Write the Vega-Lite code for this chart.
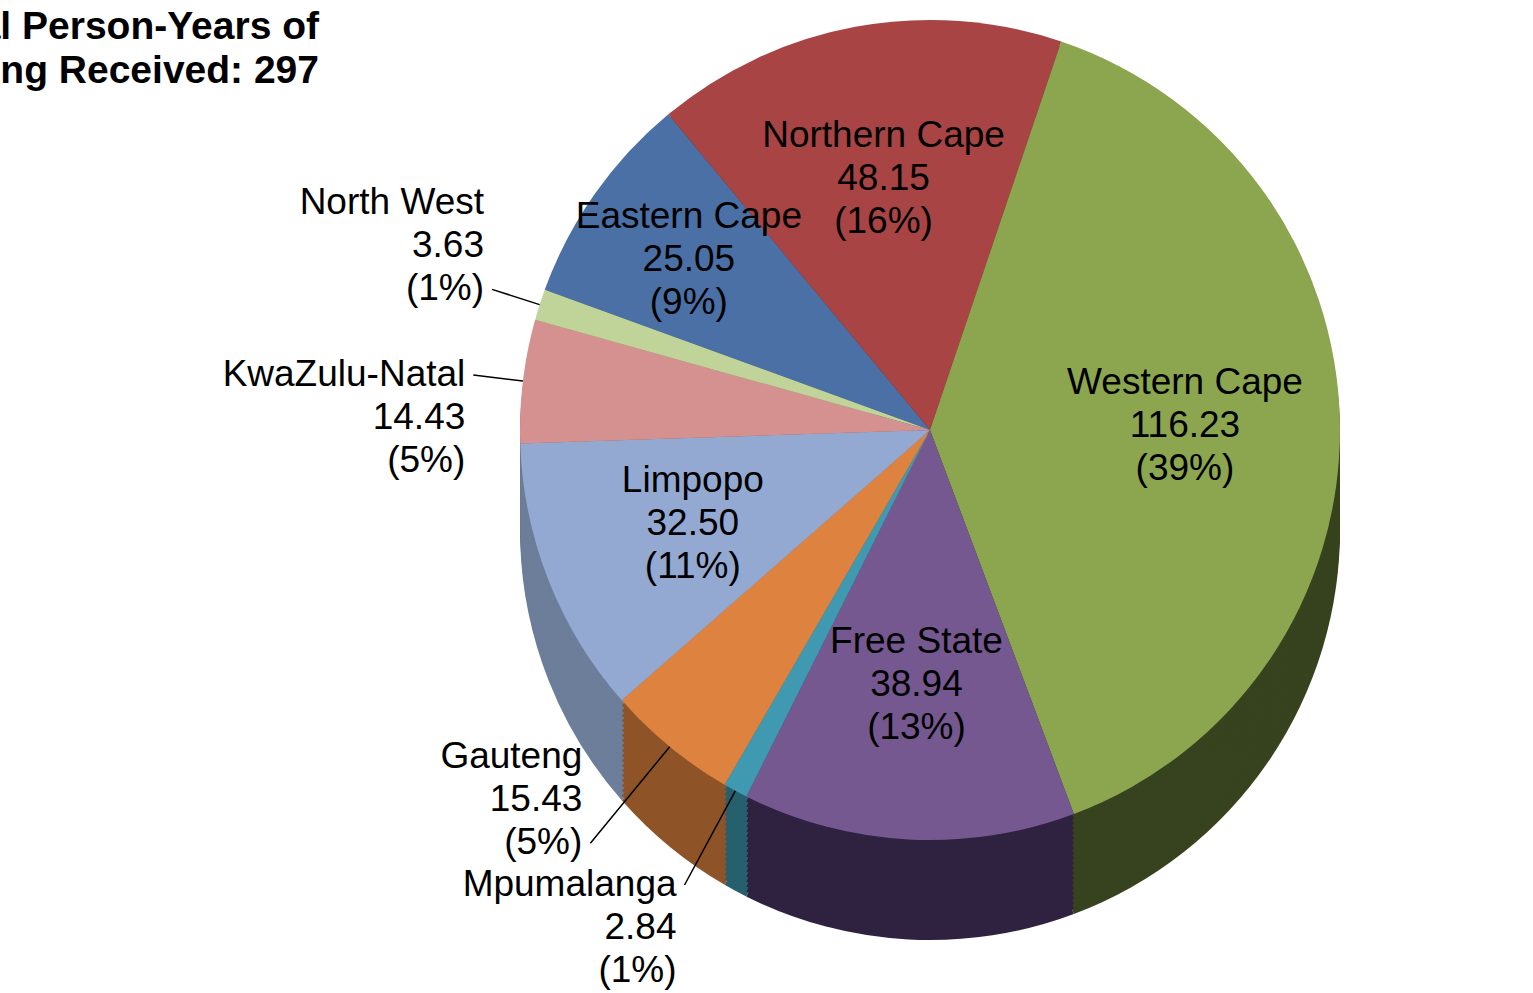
{
  "$schema": "https://vega.github.io/schema/vega-lite/v6.json",
  "width": 1000,
  "height": 860,
  "autosize": "none",
  "padding": {"left": 430, "top": 0, "right": 103, "bottom": 133},
  "background": "white",
  "config": {"view": {"stroke": null}},
  "title": {
    "text": ["Total Person-Years of", "Funding Received: 297"],
    "anchor": "start",
    "frame": "group",
    "align": "right",
    "baseline": "top",
    "dx": -111,
    "dy": 95,
    "font": "Liberation Sans",
    "fontSize": 39,
    "fontWeight": "bold",
    "lineHeight": 44,
    "color": "#000000"
  },
  "data": {
    "values": [
      {"region": "Eastern Cape", "value": 25.05, "pct": 9},
      {"region": "Northern Cape", "value": 48.15, "pct": 16},
      {"region": "Western Cape", "value": 116.23, "pct": 39},
      {"region": "Free State", "value": 38.94, "pct": 13},
      {"region": "Mpumalanga", "value": 2.84, "pct": 1},
      {"region": "Gauteng", "value": 15.43, "pct": 5},
      {"region": "Limpopo", "value": 32.50, "pct": 11},
      {"region": "KwaZulu-Natal", "value": 14.43, "pct": 5},
      {"region": "North West", "value": 3.63, "pct": 1}
    ]
  },
  "transform": [
    {"window": [{"op": "sum", "field": "value", "as": "end"}], "frame": [null, 0]},
    {"calculate": "datum.end - datum.value", "as": "start"},
    {"calculate": "datum.end - datum.value / 2", "as": "mid"},
    {"calculate": "datum.region + '\\n' + format(datum.value, '.2f') + '\\n(' + datum.pct + '%)'", "as": "label"}
  ],
  "resolve": {"scale": {"color": "independent"}},
  "layer": [
    {"mark": {"type": "arc", "outerRadius": 410, "yOffset": 100}, "encoding": {"theta": {"field": "start", "type": "quantitative", "stack": null, "scale": {"domain": [0, 297.2], "range": [5.06145, 11.34464]}}, "theta2": {"field": "end"}, "color": {"field": "region", "type": "nominal", "legend": null, "scale": {"domain": ["Eastern Cape", "Northern Cape", "Western Cape", "Free State", "Mpumalanga", "Gauteng", "Limpopo", "KwaZulu-Natal", "North West"], "range": ["#2C4466", "#672A2A", "#37431E", "#2F2240", "#26606E", "#8E5427", "#6C7E9A", "#8A5E5D", "#7D8A64"]}}}},
    {"mark": {"type": "arc", "outerRadius": 410, "yOffset": 95}, "encoding": {"theta": {"field": "start", "type": "quantitative", "stack": null}, "theta2": {"field": "end"}, "color": {"field": "region", "type": "nominal", "legend": null, "scale": {"domain": ["Eastern Cape", "Northern Cape", "Western Cape", "Free State", "Mpumalanga", "Gauteng", "Limpopo", "KwaZulu-Natal", "North West"], "range": ["#2C4466", "#672A2A", "#37431E", "#2F2240", "#26606E", "#8E5427", "#6C7E9A", "#8A5E5D", "#7D8A64"]}}}},
    {"mark": {"type": "arc", "outerRadius": 410, "yOffset": 90}, "encoding": {"theta": {"field": "start", "type": "quantitative", "stack": null}, "theta2": {"field": "end"}, "color": {"field": "region", "type": "nominal", "legend": null, "scale": {"domain": ["Eastern Cape", "Northern Cape", "Western Cape", "Free State", "Mpumalanga", "Gauteng", "Limpopo", "KwaZulu-Natal", "North West"], "range": ["#2C4466", "#672A2A", "#37431E", "#2F2240", "#26606E", "#8E5427", "#6C7E9A", "#8A5E5D", "#7D8A64"]}}}},
    {"mark": {"type": "arc", "outerRadius": 410, "yOffset": 85}, "encoding": {"theta": {"field": "start", "type": "quantitative", "stack": null}, "theta2": {"field": "end"}, "color": {"field": "region", "type": "nominal", "legend": null, "scale": {"domain": ["Eastern Cape", "Northern Cape", "Western Cape", "Free State", "Mpumalanga", "Gauteng", "Limpopo", "KwaZulu-Natal", "North West"], "range": ["#2C4466", "#672A2A", "#37431E", "#2F2240", "#26606E", "#8E5427", "#6C7E9A", "#8A5E5D", "#7D8A64"]}}}},
    {"mark": {"type": "arc", "outerRadius": 410, "yOffset": 80}, "encoding": {"theta": {"field": "start", "type": "quantitative", "stack": null}, "theta2": {"field": "end"}, "color": {"field": "region", "type": "nominal", "legend": null, "scale": {"domain": ["Eastern Cape", "Northern Cape", "Western Cape", "Free State", "Mpumalanga", "Gauteng", "Limpopo", "KwaZulu-Natal", "North West"], "range": ["#2C4466", "#672A2A", "#37431E", "#2F2240", "#26606E", "#8E5427", "#6C7E9A", "#8A5E5D", "#7D8A64"]}}}},
    {"mark": {"type": "arc", "outerRadius": 410, "yOffset": 75}, "encoding": {"theta": {"field": "start", "type": "quantitative", "stack": null}, "theta2": {"field": "end"}, "color": {"field": "region", "type": "nominal", "legend": null, "scale": {"domain": ["Eastern Cape", "Northern Cape", "Western Cape", "Free State", "Mpumalanga", "Gauteng", "Limpopo", "KwaZulu-Natal", "North West"], "range": ["#2C4466", "#672A2A", "#37431E", "#2F2240", "#26606E", "#8E5427", "#6C7E9A", "#8A5E5D", "#7D8A64"]}}}},
    {"mark": {"type": "arc", "outerRadius": 410, "yOffset": 70}, "encoding": {"theta": {"field": "start", "type": "quantitative", "stack": null}, "theta2": {"field": "end"}, "color": {"field": "region", "type": "nominal", "legend": null, "scale": {"domain": ["Eastern Cape", "Northern Cape", "Western Cape", "Free State", "Mpumalanga", "Gauteng", "Limpopo", "KwaZulu-Natal", "North West"], "range": ["#2C4466", "#672A2A", "#37431E", "#2F2240", "#26606E", "#8E5427", "#6C7E9A", "#8A5E5D", "#7D8A64"]}}}},
    {"mark": {"type": "arc", "outerRadius": 410, "yOffset": 65}, "encoding": {"theta": {"field": "start", "type": "quantitative", "stack": null}, "theta2": {"field": "end"}, "color": {"field": "region", "type": "nominal", "legend": null, "scale": {"domain": ["Eastern Cape", "Northern Cape", "Western Cape", "Free State", "Mpumalanga", "Gauteng", "Limpopo", "KwaZulu-Natal", "North West"], "range": ["#2C4466", "#672A2A", "#37431E", "#2F2240", "#26606E", "#8E5427", "#6C7E9A", "#8A5E5D", "#7D8A64"]}}}},
    {"mark": {"type": "arc", "outerRadius": 410, "yOffset": 60}, "encoding": {"theta": {"field": "start", "type": "quantitative", "stack": null}, "theta2": {"field": "end"}, "color": {"field": "region", "type": "nominal", "legend": null, "scale": {"domain": ["Eastern Cape", "Northern Cape", "Western Cape", "Free State", "Mpumalanga", "Gauteng", "Limpopo", "KwaZulu-Natal", "North West"], "range": ["#2C4466", "#672A2A", "#37431E", "#2F2240", "#26606E", "#8E5427", "#6C7E9A", "#8A5E5D", "#7D8A64"]}}}},
    {"mark": {"type": "arc", "outerRadius": 410, "yOffset": 55}, "encoding": {"theta": {"field": "start", "type": "quantitative", "stack": null}, "theta2": {"field": "end"}, "color": {"field": "region", "type": "nominal", "legend": null, "scale": {"domain": ["Eastern Cape", "Northern Cape", "Western Cape", "Free State", "Mpumalanga", "Gauteng", "Limpopo", "KwaZulu-Natal", "North West"], "range": ["#2C4466", "#672A2A", "#37431E", "#2F2240", "#26606E", "#8E5427", "#6C7E9A", "#8A5E5D", "#7D8A64"]}}}},
    {"mark": {"type": "arc", "outerRadius": 410, "yOffset": 50}, "encoding": {"theta": {"field": "start", "type": "quantitative", "stack": null}, "theta2": {"field": "end"}, "color": {"field": "region", "type": "nominal", "legend": null, "scale": {"domain": ["Eastern Cape", "Northern Cape", "Western Cape", "Free State", "Mpumalanga", "Gauteng", "Limpopo", "KwaZulu-Natal", "North West"], "range": ["#2C4466", "#672A2A", "#37431E", "#2F2240", "#26606E", "#8E5427", "#6C7E9A", "#8A5E5D", "#7D8A64"]}}}},
    {"mark": {"type": "arc", "outerRadius": 410, "yOffset": 45}, "encoding": {"theta": {"field": "start", "type": "quantitative", "stack": null}, "theta2": {"field": "end"}, "color": {"field": "region", "type": "nominal", "legend": null, "scale": {"domain": ["Eastern Cape", "Northern Cape", "Western Cape", "Free State", "Mpumalanga", "Gauteng", "Limpopo", "KwaZulu-Natal", "North West"], "range": ["#2C4466", "#672A2A", "#37431E", "#2F2240", "#26606E", "#8E5427", "#6C7E9A", "#8A5E5D", "#7D8A64"]}}}},
    {"mark": {"type": "arc", "outerRadius": 410, "yOffset": 40}, "encoding": {"theta": {"field": "start", "type": "quantitative", "stack": null}, "theta2": {"field": "end"}, "color": {"field": "region", "type": "nominal", "legend": null, "scale": {"domain": ["Eastern Cape", "Northern Cape", "Western Cape", "Free State", "Mpumalanga", "Gauteng", "Limpopo", "KwaZulu-Natal", "North West"], "range": ["#2C4466", "#672A2A", "#37431E", "#2F2240", "#26606E", "#8E5427", "#6C7E9A", "#8A5E5D", "#7D8A64"]}}}},
    {"mark": {"type": "arc", "outerRadius": 410, "yOffset": 35}, "encoding": {"theta": {"field": "start", "type": "quantitative", "stack": null}, "theta2": {"field": "end"}, "color": {"field": "region", "type": "nominal", "legend": null, "scale": {"domain": ["Eastern Cape", "Northern Cape", "Western Cape", "Free State", "Mpumalanga", "Gauteng", "Limpopo", "KwaZulu-Natal", "North West"], "range": ["#2C4466", "#672A2A", "#37431E", "#2F2240", "#26606E", "#8E5427", "#6C7E9A", "#8A5E5D", "#7D8A64"]}}}},
    {"mark": {"type": "arc", "outerRadius": 410, "yOffset": 30}, "encoding": {"theta": {"field": "start", "type": "quantitative", "stack": null}, "theta2": {"field": "end"}, "color": {"field": "region", "type": "nominal", "legend": null, "scale": {"domain": ["Eastern Cape", "Northern Cape", "Western Cape", "Free State", "Mpumalanga", "Gauteng", "Limpopo", "KwaZulu-Natal", "North West"], "range": ["#2C4466", "#672A2A", "#37431E", "#2F2240", "#26606E", "#8E5427", "#6C7E9A", "#8A5E5D", "#7D8A64"]}}}},
    {"mark": {"type": "arc", "outerRadius": 410, "yOffset": 25}, "encoding": {"theta": {"field": "start", "type": "quantitative", "stack": null}, "theta2": {"field": "end"}, "color": {"field": "region", "type": "nominal", "legend": null, "scale": {"domain": ["Eastern Cape", "Northern Cape", "Western Cape", "Free State", "Mpumalanga", "Gauteng", "Limpopo", "KwaZulu-Natal", "North West"], "range": ["#2C4466", "#672A2A", "#37431E", "#2F2240", "#26606E", "#8E5427", "#6C7E9A", "#8A5E5D", "#7D8A64"]}}}},
    {"mark": {"type": "arc", "outerRadius": 410, "yOffset": 20}, "encoding": {"theta": {"field": "start", "type": "quantitative", "stack": null}, "theta2": {"field": "end"}, "color": {"field": "region", "type": "nominal", "legend": null, "scale": {"domain": ["Eastern Cape", "Northern Cape", "Western Cape", "Free State", "Mpumalanga", "Gauteng", "Limpopo", "KwaZulu-Natal", "North West"], "range": ["#2C4466", "#672A2A", "#37431E", "#2F2240", "#26606E", "#8E5427", "#6C7E9A", "#8A5E5D", "#7D8A64"]}}}},
    {"mark": {"type": "arc", "outerRadius": 410, "yOffset": 15}, "encoding": {"theta": {"field": "start", "type": "quantitative", "stack": null}, "theta2": {"field": "end"}, "color": {"field": "region", "type": "nominal", "legend": null, "scale": {"domain": ["Eastern Cape", "Northern Cape", "Western Cape", "Free State", "Mpumalanga", "Gauteng", "Limpopo", "KwaZulu-Natal", "North West"], "range": ["#2C4466", "#672A2A", "#37431E", "#2F2240", "#26606E", "#8E5427", "#6C7E9A", "#8A5E5D", "#7D8A64"]}}}},
    {"mark": {"type": "arc", "outerRadius": 410, "yOffset": 10}, "encoding": {"theta": {"field": "start", "type": "quantitative", "stack": null}, "theta2": {"field": "end"}, "color": {"field": "region", "type": "nominal", "legend": null, "scale": {"domain": ["Eastern Cape", "Northern Cape", "Western Cape", "Free State", "Mpumalanga", "Gauteng", "Limpopo", "KwaZulu-Natal", "North West"], "range": ["#2C4466", "#672A2A", "#37431E", "#2F2240", "#26606E", "#8E5427", "#6C7E9A", "#8A5E5D", "#7D8A64"]}}}},
    {"mark": {"type": "arc", "outerRadius": 410, "yOffset": 5}, "encoding": {"theta": {"field": "start", "type": "quantitative", "stack": null}, "theta2": {"field": "end"}, "color": {"field": "region", "type": "nominal", "legend": null, "scale": {"domain": ["Eastern Cape", "Northern Cape", "Western Cape", "Free State", "Mpumalanga", "Gauteng", "Limpopo", "KwaZulu-Natal", "North West"], "range": ["#2C4466", "#672A2A", "#37431E", "#2F2240", "#26606E", "#8E5427", "#6C7E9A", "#8A5E5D", "#7D8A64"]}}}},
    {
      "mark": {"type": "arc", "outerRadius": 410},
      "encoding": {
        "theta": {"field": "start", "type": "quantitative", "stack": null},
        "theta2": {"field": "end"},
        "color": {"field": "region", "type": "nominal", "legend": null,
          "scale": {"domain": ["Eastern Cape", "Northern Cape", "Western Cape", "Free State", "Mpumalanga", "Gauteng", "Limpopo", "KwaZulu-Natal", "North West"],
                    "range": ["#4A70A5", "#A84444", "#8BA64E", "#765891", "#3F9AB1", "#DE823F", "#93A9D2", "#D49190", "#C0D49A"]}}
      }
    },
    {
      "transform": [{"filter": "datum.region == 'North West' || datum.region == 'KwaZulu-Natal'"}],
      "mark": {"type": "arc", "radius": 460, "radius2": 410, "filled": false, "stroke": "#000000", "strokeWidth": 1.5},
      "encoding": {"theta": {"field": "mid", "type": "quantitative", "stack": null}, "theta2": {"field": "mid"}}
    },
    {
      "transform": [{"filter": "datum.region == 'Gauteng'"}],
      "mark": {"type": "arc", "radius": 535, "radius2": 410, "filled": false, "stroke": "#000000", "strokeWidth": 1.5},
      "encoding": {"theta": {"field": "mid", "type": "quantitative", "stack": null}, "theta2": {"field": "mid"}}
    },
    {
      "transform": [{"filter": "datum.region == 'Mpumalanga'"}],
      "mark": {"type": "arc", "radius": 517, "radius2": 410, "filled": false, "stroke": "#000000", "strokeWidth": 1.5},
      "encoding": {"theta": {"field": "mid", "type": "quantitative", "stack": null}, "theta2": {"field": "mid"}}
    },
    {
      "transform": [{"filter": "datum.value > 20 && datum.region != 'Eastern Cape'"}],
      "mark": {"type": "text", "radius": 255, "dy": -43, "font": "Liberation Sans", "fontSize": 37, "lineHeight": 43, "lineBreak": "\n", "align": "center", "baseline": "middle", "color": "#000000"},
      "encoding": {"theta": {"field": "mid", "type": "quantitative", "stack": null}, "text": {"field": "label", "type": "nominal"}}
    },
    {
      "transform": [{"filter": "datum.region == 'Eastern Cape'"}],
      "mark": {"type": "text", "radius": 295, "dy": -43, "font": "Liberation Sans", "fontSize": 37, "lineHeight": 43, "lineBreak": "\n", "align": "center", "baseline": "middle", "color": "#000000"},
      "encoding": {"theta": {"field": "mid", "type": "quantitative", "stack": null}, "text": {"field": "label", "type": "nominal"}}
    },
    {
      "transform": [{"filter": "datum.region == 'North West'"}],
      "mark": {"type": "text", "radius": 460, "dx": -8, "dy": -86, "font": "Liberation Sans", "fontSize": 37, "lineHeight": 43, "lineBreak": "\n", "align": "right", "baseline": "middle", "color": "#000000"},
      "encoding": {"theta": {"field": "mid", "type": "quantitative", "stack": null}, "text": {"field": "label", "type": "nominal"}}
    },
    {
      "transform": [{"filter": "datum.region == 'KwaZulu-Natal'"}],
      "mark": {"type": "text", "radius": 460, "dx": -8, "dy": 0, "font": "Liberation Sans", "fontSize": 37, "lineHeight": 43, "lineBreak": "\n", "align": "right", "baseline": "middle", "color": "#000000"},
      "encoding": {"theta": {"field": "mid", "type": "quantitative", "stack": null}, "text": {"field": "label", "type": "nominal"}}
    },
    {
      "transform": [{"filter": "datum.region == 'Gauteng'"}],
      "mark": {"type": "text", "radius": 535, "dx": -8, "dy": -86, "font": "Liberation Sans", "fontSize": 37, "lineHeight": 43, "lineBreak": "\n", "align": "right", "baseline": "middle", "color": "#000000"},
      "encoding": {"theta": {"field": "mid", "type": "quantitative", "stack": null}, "text": {"field": "label", "type": "nominal"}}
    },
    {
      "transform": [{"filter": "datum.region == 'Mpumalanga'"}],
      "mark": {"type": "text", "radius": 517, "dx": -8, "dy": 0, "font": "Liberation Sans", "fontSize": 37, "lineHeight": 43, "lineBreak": "\n", "align": "right", "baseline": "middle", "color": "#000000"},
      "encoding": {"theta": {"field": "mid", "type": "quantitative", "stack": null}, "text": {"field": "label", "type": "nominal"}}
    }
  ]
}
